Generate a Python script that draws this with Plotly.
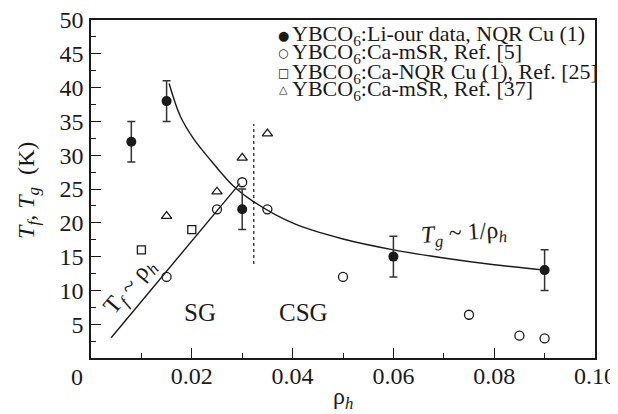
import plotly.graph_objects as go

# ---- data ----
li_x = [0.008, 0.015, 0.030, 0.060, 0.090]
li_y = [32, 38, 22, 15, 13]
li_err = [3, 3, 3, 3, 3]

ca5_x = [0.015, 0.025, 0.030, 0.035, 0.050, 0.075, 0.085, 0.090]
ca5_y = [12, 22, 26, 22, 12, 6.4, 3.3, 2.9]

ca25_x = [0.010, 0.020]
ca25_y = [16, 19]

ca37_x = [0.015, 0.025, 0.030, 0.035]
ca37_y = [21, 24.6, 29.6, 33.2]

tf_x = [0.004, 0.0295]
tf_y = [3.0, 25.8]

tg_x = [0.0155, 0.0177, 0.0203, 0.0237, 0.0283, 0.0323, 0.0402, 0.0500, 0.060, 0.070, 0.080, 0.090]
tg_y = [40.6, 35.8, 32.5, 29.3, 25.4, 23.1, 19.9, 17.6, 16.0, 14.8, 13.8, 13.0]

bound_x = [0.0323, 0.0323]
bound_y = [13.9, 34.6]

x_ticks = [0.02, 0.04, 0.06, 0.08, 0.10]
x_ticklabels = ["0.02", "0.04", "0.06", "0.08", "0.10"]
y_ticks = [5, 10, 15, 20, 25, 30, 35, 40, 45, 50]

legend_labels = [
    "YBCO<sub>6</sub>:Li-our data, NQR Cu (1)",
    "YBCO<sub>6</sub>:Ca-mSR, Ref. [5]",
    "YBCO<sub>6</sub>:Ca-NQR Cu (1), Ref. [25]",
    "YBCO<sub>6</sub>:Ca-mSR, Ref. [37]",
]
legend_symbols = ["●", "○", "□", "△"]

INK = "#1a1a1a"
FONT = "Liberation Serif"

fig = go.Figure()

fig.add_trace(go.Scatter(x=tf_x, y=tf_y, mode="lines",
                         line=dict(color=INK, width=1.4), showlegend=False))
fig.add_trace(go.Scatter(x=tg_x, y=tg_y, mode="lines", line_shape="spline",
                         line=dict(color=INK, width=1.4), showlegend=False))
fig.add_trace(go.Scatter(x=bound_x, y=bound_y, mode="lines",
                         line=dict(color=INK, width=1.2, dash="dot"), showlegend=False))

fig.add_trace(go.Scatter(x=ca5_x, y=ca5_y, mode="markers", name="YBCO6:Ca-mSR, Ref. [5]",
                         marker=dict(symbol="circle-open", size=9, color=INK, line=dict(width=1.3)),
                         showlegend=False))
fig.add_trace(go.Scatter(x=ca25_x, y=ca25_y, mode="markers", name="YBCO6:Ca-NQR Cu (1), Ref. [25]",
                         marker=dict(symbol="square-open", size=8, color=INK, line=dict(width=1.3)),
                         showlegend=False))
fig.add_trace(go.Scatter(x=ca37_x, y=ca37_y, mode="markers", name="YBCO6:Ca-mSR, Ref. [37]",
                         marker=dict(symbol="triangle-up-open", size=9, color=INK, line=dict(width=1.3)),
                         showlegend=False))
fig.add_trace(go.Scatter(x=li_x, y=li_y, mode="markers", name="YBCO6:Li-our data, NQR Cu (1)",
                         marker=dict(symbol="circle", size=10, color=INK),
                         error_y=dict(type="data", array=li_err, visible=True,
                                      color="#333333", thickness=1.5, width=4),
                         showlegend=False))

ann = []
# legend (as text)
leg_y = [0.9556, 0.9015, 0.844, 0.793]
sym_sizes = [13, 12, 12, 11]
for lab, sym, yy, ss in zip(legend_labels, legend_symbols, leg_y, sym_sizes):
    ann.append(dict(xref="paper", yref="paper", x=0.381, y=yy, text=sym, showarrow=False,
                    xanchor="center", yanchor="middle",
                    font=dict(family="DejaVu Sans", size=ss, color=INK)))
    ann.append(dict(xref="paper", yref="paper", x=0.395, y=yy, text=lab, showarrow=False,
                    xanchor="left", yanchor="middle",
                    font=dict(family=FONT, size=22, color=INK)))

# region labels and fit labels
ann.append(dict(x=0.0217, y=6.7, text="SG", showarrow=False,
                font=dict(family=FONT, size=25, color=INK)))
ann.append(dict(x=0.0422, y=6.7, text="CSG", showarrow=False,
                font=dict(family=FONT, size=25, color=INK)))
ann.append(dict(x=0.0078, y=10.5, text="T<sub><i>f</i></sub> ~ ρ<sub><i>h</i></sub>", showarrow=False,
                textangle=-50, font=dict(family=FONT, size=24, color=INK)))
ann.append(dict(x=0.074, y=18.3, text="<i>T</i><sub><i>g</i></sub> ~ 1/ρ<sub><i>h</i></sub>", showarrow=False,
                textangle=-4, font=dict(family=FONT, size=24, color=INK)))

# axis titles and shared origin label
ann.append(dict(xref="paper", yref="paper", x=-0.159, y=0.497, textangle=-90,
                text="<i>T</i><sub><i>f</i></sub>, <i>T</i><sub><i>g</i></sub>  (K)", showarrow=False,
                font=dict(family=FONT, size=24, color=INK)))
ann.append(dict(xref="paper", yref="paper", x=0.5, y=-0.119, yanchor="middle",
                text="ρ<sub><i>h</i></sub>", showarrow=False,
                font=dict(family=FONT, size=24, color=INK)))
ann.append(dict(xref="paper", yref="paper", x=-0.0437, y=-0.0562, yanchor="middle",
                text="0", showarrow=False,
                font=dict(family=FONT, size=24, color=INK)))

# the page body adds an 8px offset, so the figure is laid out 8px up/left
fig.update_layout(
    width=610, height=406,
    margin=dict(l=83, r=23, t=12, b=56, autoexpand=False),
    plot_bgcolor="white", paper_bgcolor="white",
    font=dict(family=FONT, size=24, color=INK),
    annotations=ann,
    showlegend=False,
)
fig.update_xaxes(range=[0, 0.10], tickvals=x_ticks, ticktext=x_ticklabels, automargin=False,
                 ticks="inside", ticklen=10, tickwidth=1.3, tickcolor=INK,
                 showline=True, linecolor=INK, linewidth=1.5, mirror=True,
                 showgrid=False, zeroline=False, ticklabelstandoff=-5,
                 ticklabeloverflow="allow",
                 tickfont=dict(family=FONT, size=24, color=INK),
                 minor=dict(tickvals=[0.01, 0.03, 0.05, 0.07, 0.09], ticks="inside",
                            ticklen=5, tickwidth=1.3, tickcolor=INK))
fig.update_yaxes(range=[0, 50], tickvals=y_ticks, automargin=False,
                 ticks="inside", ticklen=10, tickwidth=1.3, tickcolor=INK,
                 showline=True, linecolor=INK, linewidth=1.5, mirror=True,
                 showgrid=False, zeroline=False, ticklabelstandoff=1,
                 ticklabeloverflow="allow",
                 tickfont=dict(family=FONT, size=24, color=INK),
                 minor=dict(tickvals=[2.5, 7.5, 12.5, 17.5, 22.5, 27.5, 32.5, 37.5, 42.5, 47.5],
                            ticks="inside", ticklen=5, tickwidth=1.3, tickcolor=INK))

fig.write_html("out.html")
